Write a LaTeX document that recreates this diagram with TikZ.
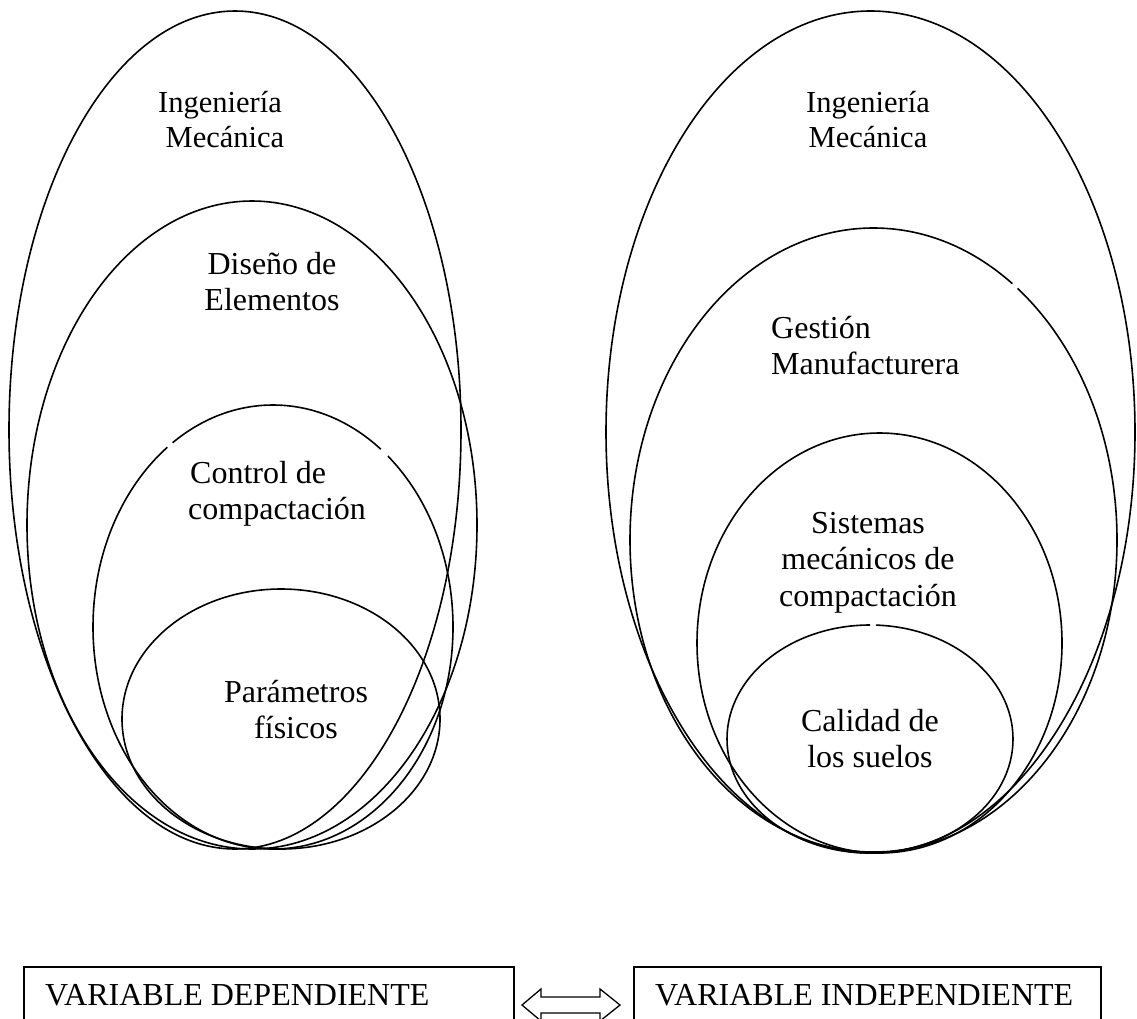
\documentclass[tikz,border=0pt]{standalone}
\usepackage{fontspec}
\setmainfont{Liberation Serif}
\begin{document}
\begin{tikzpicture}[x=1pt,y=-1pt,
  ring/.style={draw=black, line width=1.6pt},
  lbl/.style={font=\fontsize{32}{36.5}\selectfont, inner sep=0pt, anchor=base},
  lbll/.style={lbl, anchor=base west},
  toplbl/.style={lbl, font=\fontsize{30.5}{35}\selectfont},
  varbox/.style={draw=black, line width=1.8pt, anchor=north west, inner sep=0pt},
  gap/.style={fill=white}]
\useasboundingbox (0,0) rectangle (1137,1018);

% left set of nested fields
\draw[ring] (235,430) ellipse [x radius=226pt, y radius=419pt];
\draw[ring] (252,525) ellipse [x radius=225pt, y radius=324pt];
\draw[ring] (273,627) ellipse [x radius=180pt, y radius=222pt];
\draw[ring] (281,719) ellipse [x radius=159pt, y radius=130pt];
\fill[gap] (170,445) circle (3.5pt);
\fill[gap] (384,453) circle (5pt);

% right set of nested fields
\draw[ring] (870.5,432) ellipse [x radius=264.5pt, y radius=421pt];
\draw[ring] (873.5,540) ellipse [x radius=243.5pt, y radius=312pt];
\draw[ring] (879.5,643) ellipse [x radius=182.5pt, y radius=210pt];
\draw[ring] (870,739) ellipse [x radius=143pt, y radius=114pt];
\fill[gap] (1015,286) circle (3.5pt);
\fill[gap] (873,625) circle (3pt);

% labels, left
\node[toplbl] (l1a) at (220,112) {Ingeniería};
\node[toplbl] (l1b) at (225,147) {Mecánica};
\node[lbl] (l2a) at (272,274) {Diseño de};
\node[lbl] (l2b) at (272,310.5) {Elementos};
\node[lbll] (l3a) at (190,483) {Control de};
\node[lbll] (l3b) at (188,519.5) {compactación};
\node[lbl] (l4a) at (296,702) {Parámetros};
\node[lbl] (l4b) at (296,738.5) {físicos};

% labels, right
\node[toplbl] (r1a) at (868,112) {Ingeniería};
\node[toplbl] (r1b) at (868,147) {Mecánica};
\node[lbll] (r2a) at (771,338) {Gestión};
\node[lbll] (r2b) at (771,374.5) {Manufacturera};
\node[lbl] (r3a) at (868,533) {Sistemas};
\node[lbl] (r3b) at (868,569.5) {mecánicos de};
\node[lbl] (r3c) at (868,606) {compactación};
\node[lbl] (r4a) at (870,731) {Calidad de};
\node[lbl] (r4b) at (870,767.5) {los suelos};

% variable boxes
\node[varbox, minimum width=490pt, minimum height=90pt] (dep) at (23,966) {};
\node[lbll] (deptxt) at (45,1005) {VARIABLE DEPENDIENTE};
\node[varbox, minimum width=467pt, minimum height=90pt] (ind) at (633,966) {};
\node[lbll] (indtxt) at (655,1005) {VARIABLE INDEPENDIENTE};

% two-way arrow between the boxes
\coordinate (tipL) at (522,1005);
\coordinate (tipR) at (620,1005);
\draw[line width=1.3pt, line join=miter]
  (tipL) -- (541,989) -- (541,997) -- (600,997) -- (600,989) -- (tipR)
  -- (600,1021) -- (600,1013) -- (541,1013) -- (541,1021) -- cycle;
\end{tikzpicture}
\end{document}
